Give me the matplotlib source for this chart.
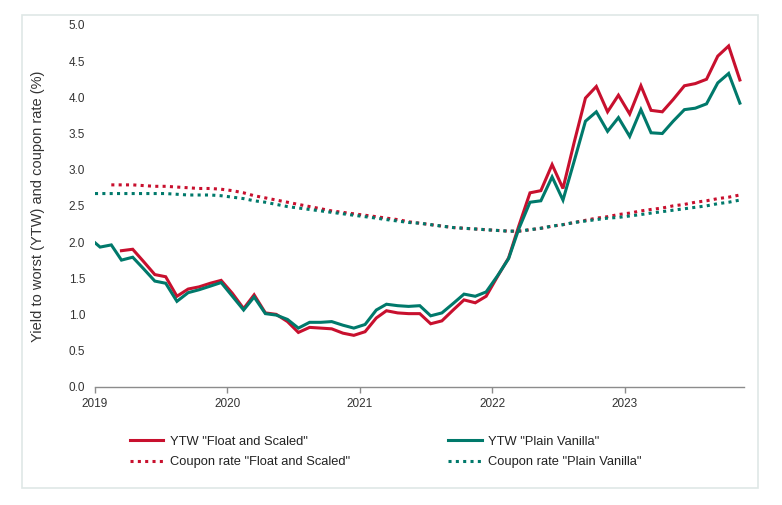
import matplotlib
matplotlib.use("Agg")
import matplotlib.pyplot as plt
import matplotlib.patches as patches
import numpy as np
import pandas as pd

plt.rcParams['font.family'] = ['Liberation Sans', 'DejaVu Sans']

# ---- data ----
start_date = pd.Timestamp("2019-01-01")
dates = pd.date_range("2019-01-01", periods=59, freq="MS") + pd.Timedelta(days=14)

ytw_pv_start = 1.99
ytw_pv = [1.93, 1.96, 1.75, 1.79, 1.63, 1.46, 1.43, 1.18, 1.30, 1.34, 1.39, 1.44,
          1.25, 1.06, 1.24, 1.01, 0.99, 0.93, 0.81, 0.89, 0.89, 0.90, 0.85, 0.81,
          0.86, 1.06, 1.14, 1.12, 1.11, 1.12, 0.98, 1.02, 1.15, 1.28, 1.25, 1.31,
          1.53, 1.77, 2.18, 2.55, 2.57, 2.90, 2.58, 3.12, 3.67, 3.80, 3.53, 3.72,
          3.46, 3.83, 3.51, 3.50, 3.67, 3.83, 3.85, 3.91, 4.20, 4.33, 3.92]

ytw_fs = [np.nan, np.nan, 1.88, 1.90, 1.73, 1.55, 1.52, 1.25, 1.35, 1.38, 1.43, 1.47,
          1.29, 1.08, 1.27, 1.02, 1.00, 0.90, 0.75, 0.82, 0.81, 0.80, 0.74, 0.71,
          0.76, 0.95, 1.05, 1.02, 1.01, 1.01, 0.87, 0.91, 1.06, 1.20, 1.16, 1.25,
          1.52, 1.78, 2.22, 2.68, 2.71, 3.07, 2.74, 3.38, 3.99, 4.15, 3.80, 4.03,
          3.77, 4.16, 3.82, 3.80, 3.97, 4.16, 4.19, 4.25, 4.57, 4.71, 4.24]

cpn_pv_start = 2.67
cpn_pv = [2.67, 2.67, 2.67, 2.67, 2.67, 2.67, 2.67, 2.66, 2.65, 2.65, 2.65, 2.64,
          2.62, 2.60, 2.57, 2.55, 2.52, 2.49, 2.47, 2.45, 2.43, 2.41, 2.39, 2.37,
          2.35, 2.33, 2.31, 2.29, 2.27, 2.26, 2.24, 2.22, 2.20, 2.19, 2.18, 2.17,
          2.16, 2.15, 2.15, 2.17, 2.19, 2.22, 2.24, 2.27, 2.29, 2.31, 2.33, 2.34,
          2.36, 2.38, 2.40, 2.42, 2.44, 2.46, 2.48, 2.50, 2.53, 2.55, 2.58]

cpn_fs = [np.nan, 2.79, 2.79, 2.79, 2.78, 2.77, 2.77, 2.76, 2.75, 2.74, 2.74, 2.73,
          2.71, 2.68, 2.64, 2.61, 2.58, 2.55, 2.52, 2.49, 2.46, 2.43, 2.41, 2.39,
          2.37, 2.35, 2.33, 2.31, 2.28, 2.26, 2.24, 2.22, 2.20, 2.19, 2.18, 2.17,
          2.16, 2.15, 2.15, 2.17, 2.19, 2.22, 2.24, 2.27, 2.30, 2.33, 2.35, 2.38,
          2.40, 2.43, 2.45, 2.47, 2.50, 2.52, 2.55, 2.57, 2.60, 2.62, 2.65]

labels = ['YTW "Float and Scaled"', 'YTW "Plain Vanilla"',
          'Coupon rate "Float and Scaled"', 'Coupon rate "Plain Vanilla"']
year_ticks = ["2019", "2020", "2021", "2022", "2023"]

RED = "#c8102e"
GREEN = "#00796b"

fig = plt.figure(figsize=(7.82, 5.05), dpi=100)
ax = fig.add_axes([95/782, 1-386.7/505, 648.5/782, 361.7/505])

pv_dates = [start_date] + list(dates)
l1, = ax.plot(dates, ytw_fs, color=RED, lw=2.2, solid_joinstyle='miter')
l2, = ax.plot(pv_dates, [ytw_pv_start] + ytw_pv, color=GREEN, lw=2.2, solid_joinstyle='miter')
l3, = ax.plot(dates, cpn_fs, color=RED, lw=2.2, ls=(0, (1, 1.4)))
l4, = ax.plot(pv_dates, [cpn_pv_start] + cpn_pv, color=GREEN, lw=2.2, ls=(0, (1, 1.4)))

ax.set_ylim(0, 5.0)
ax.set_yticks(np.arange(0, 5.01, 0.5))
ax.yaxis.set_major_formatter(matplotlib.ticker.FormatStrFormatter('%.1f'))
ax.set_xlim(pd.Timestamp("2019-01-01"), pd.Timestamp("2023-11-25"))
ax.set_xticks([pd.Timestamp(y + "-01-01") for y in year_ticks])
ax.set_xticklabels(year_ticks)

for s in ['top', 'right', 'left']:
    ax.spines[s].set_visible(False)
ax.spines['bottom'].set_color('#8c8c8c')
ax.spines['bottom'].set_linewidth(1.0)
ax.tick_params(axis='y', length=0, pad=7, labelsize=8.5, labelcolor='#333333')
ax.tick_params(axis='x', length=4, width=1, color='#8c8c8c', pad=4, labelsize=8.5, labelcolor='#333333')

fig.text(38/782, 1-206/505, "Yield to worst (YTW) and coupon rate (%)", rotation=90,
         ha='center', va='center', fontsize=10.5, color='#333333')

# columns: (YTW FS, Coupon FS) | (YTW PV, Coupon PV)
leg = fig.legend([l1, l3, l2, l4], [labels[0], labels[2], labels[1], labels[3]],
                 ncol=2, loc='upper left',
                 bbox_to_anchor=(118/782, 1-424/505), frameon=False,
                 fontsize=9.3, handlelength=2.6, handletextpad=0.5,
                 columnspacing=7.6, labelspacing=0.65)
for t in leg.get_texts():
    t.set_color('#222222')

fig.patches.append(patches.Rectangle((22/782, 1-488/505), 736/782, 473/505,
                                     transform=fig.transFigure, fill=False,
                                     edgecolor='#dfe8e6', lw=1.2))

fig.savefig("out.png", dpi=100)
